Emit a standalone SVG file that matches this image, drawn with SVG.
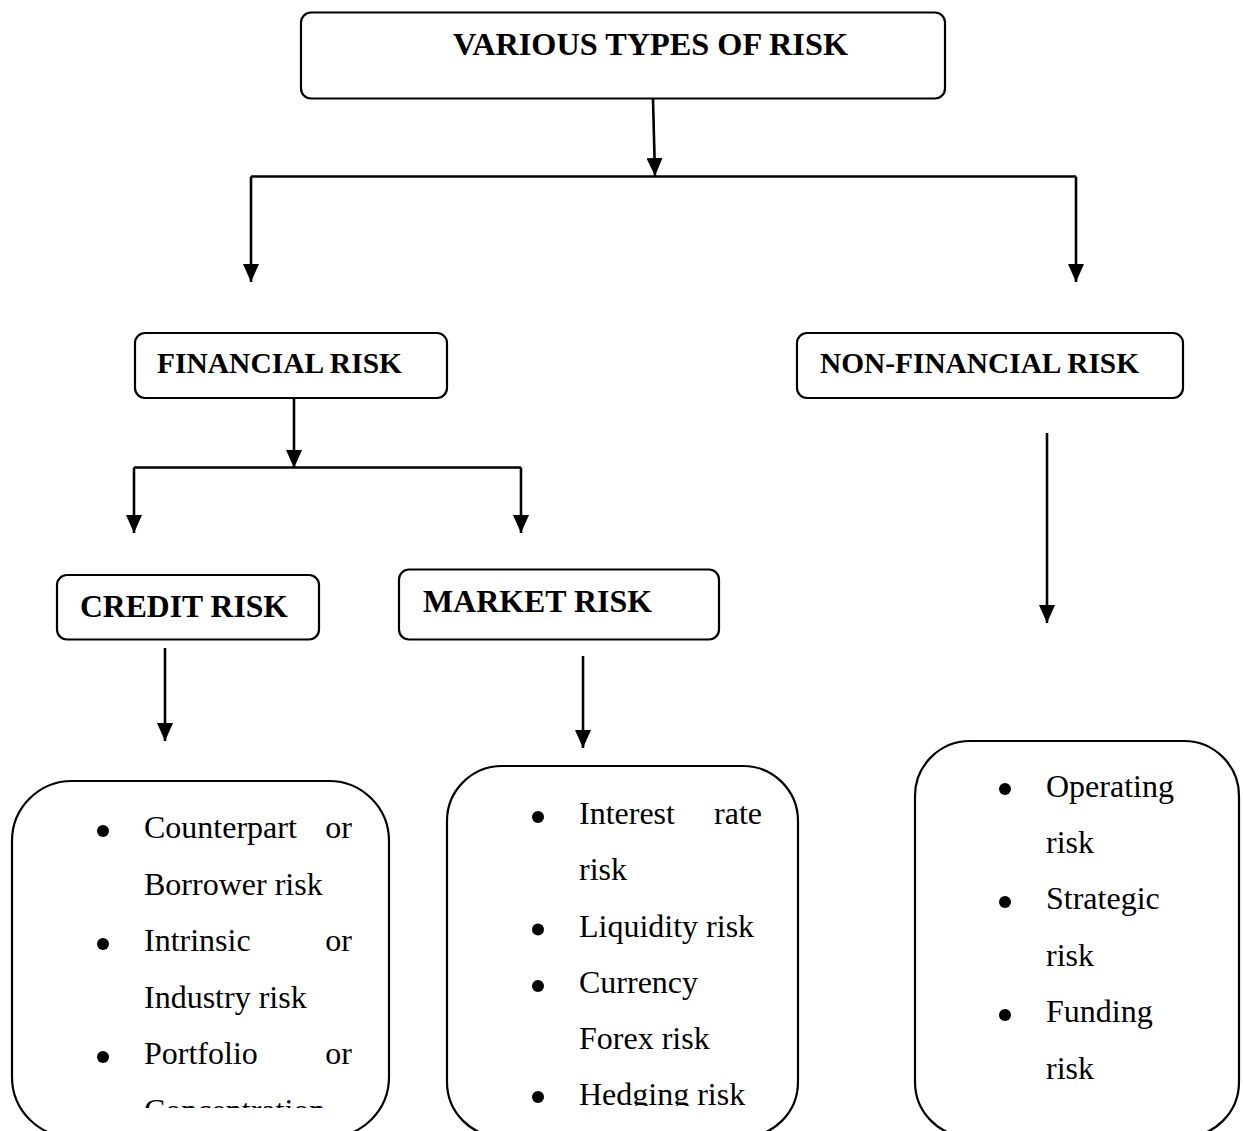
<svg xmlns="http://www.w3.org/2000/svg" width="1243" height="1131" viewBox="0 0 1243 1131">
<defs>
<style>
.box{fill:#fff;stroke:#000;stroke-width:2.2}
.hd{font-family:"Liberation Serif","Times New Roman",serif;font-weight:bold;fill:#000}
.it{font-family:"Liberation Serif","Times New Roman",serif;font-size:32px;fill:#000}
.cn{fill:none;stroke:#000;stroke-width:2.6}
</style>
<marker id="ah" viewBox="0 0 18 16" refX="18" refY="8" markerWidth="18" markerHeight="16" markerUnits="userSpaceOnUse" orient="auto">
<path d="M0,0 L18,8 L0,16 z" fill="#000"/>
</marker>
<clipPath id="clipC"><rect x="0" y="700" width="420" height="408"/></clipPath>
<clipPath id="clipM"><rect x="430" y="700" width="400" height="406"/></clipPath>
</defs>
<rect width="1243" height="1131" fill="#fff"/>

<g id="connectors">
<path class="cn" d="M653,99 L655,176" marker-end="url(#ah)"/>
<path class="cn" d="M251,176.5 H1076"/>
<path class="cn" d="M251,176.5 V282" marker-end="url(#ah)"/>
<path class="cn" d="M1076,176.5 V282" marker-end="url(#ah)"/>
<path class="cn" d="M294,398 V468" marker-end="url(#ah)"/>
<path class="cn" d="M134,467.5 H521"/>
<path class="cn" d="M134,467.5 V533" marker-end="url(#ah)"/>
<path class="cn" d="M521,467.5 V533" marker-end="url(#ah)"/>
<path class="cn" d="M165,648 V741" marker-end="url(#ah)"/>
<path class="cn" d="M583,656 V748" marker-end="url(#ah)"/>
<path class="cn" d="M1047,433 V623" marker-end="url(#ah)"/>
</g>

<g id="node-various">
<rect class="box" x="301" y="12.5" width="644" height="86" rx="10"/>
<text class="hd" x="453" y="55" font-size="32" textLength="395" lengthAdjust="spacingAndGlyphs">VARIOUS TYPES OF RISK</text>
</g>

<g id="node-financial">
<rect class="box" x="135" y="333" width="312" height="65" rx="10"/>
<text class="hd" x="157" y="372.5" font-size="29" textLength="245" lengthAdjust="spacingAndGlyphs">FINANCIAL RISK</text>
</g>

<g id="node-nonfinancial">
<rect class="box" x="797" y="333" width="386" height="65" rx="10"/>
<text class="hd" x="820" y="372.5" font-size="29" textLength="319" lengthAdjust="spacingAndGlyphs">NON-FINANCIAL RISK</text>
</g>

<g id="node-credit">
<rect class="box" x="57" y="575" width="262" height="64.5" rx="10"/>
<text class="hd" x="80" y="617" font-size="32" textLength="208" lengthAdjust="spacingAndGlyphs">CREDIT RISK</text>
</g>

<g id="node-market">
<rect class="box" x="399" y="569.5" width="320" height="70" rx="10"/>
<text class="hd" x="423" y="612" font-size="32" textLength="229" lengthAdjust="spacingAndGlyphs">MARKET RISK</text>
</g>

<g id="node-credit-list">
<rect class="box" x="12" y="781" width="377" height="356" rx="60"/>
<g clip-path="url(#clipC)">
<circle cx="103" cy="831" r="6"/>
<text class="it" x="144" y="838">Counterpart</text>
<text class="it" x="352" y="838" text-anchor="end">or</text>
<text class="it" x="144" y="894.5">Borrower risk</text>
<circle cx="103" cy="944" r="6"/>
<text class="it" x="144" y="951">Intrinsic</text>
<text class="it" x="352" y="951" text-anchor="end">or</text>
<text class="it" x="144" y="1007.5">Industry risk</text>
<circle cx="103" cy="1057" r="6"/>
<text class="it" x="144" y="1064">Portfolio</text>
<text class="it" x="352" y="1064" text-anchor="end">or</text>
<text class="it" x="144" y="1120.5">Concentration</text>
</g>
</g>

<g id="node-market-list">
<rect class="box" x="447" y="766" width="351" height="371" rx="55"/>
<g clip-path="url(#clipM)">
<circle cx="538" cy="817" r="6"/>
<text class="it" x="579" y="824">Interest</text>
<text class="it" x="762" y="824" text-anchor="end">rate</text>
<text class="it" x="579" y="880">risk</text>
<circle cx="538" cy="929.5" r="6"/>
<text class="it" x="579" y="936.5">Liquidity risk</text>
<circle cx="538" cy="986" r="6"/>
<text class="it" x="579" y="993">Currency</text>
<text class="it" x="579" y="1049">Forex risk</text>
<circle cx="538" cy="1097" r="6"/>
<text class="it" x="579" y="1104.5">Hedging risk</text>
</g>
</g>

<g id="node-nonfinancial-list">
<rect class="box" x="915" y="741" width="324" height="396" rx="55"/>
<circle cx="1005" cy="789" r="6"/>
<text class="it" x="1046" y="796.5">Operating</text>
<text class="it" x="1046" y="852.5">risk</text>
<circle cx="1005" cy="902" r="6"/>
<text class="it" x="1046" y="909">Strategic</text>
<text class="it" x="1046" y="965.5">risk</text>
<circle cx="1005" cy="1015" r="6"/>
<text class="it" x="1046" y="1022">Funding</text>
<text class="it" x="1046" y="1078.5">risk</text>
</g>
</svg>
